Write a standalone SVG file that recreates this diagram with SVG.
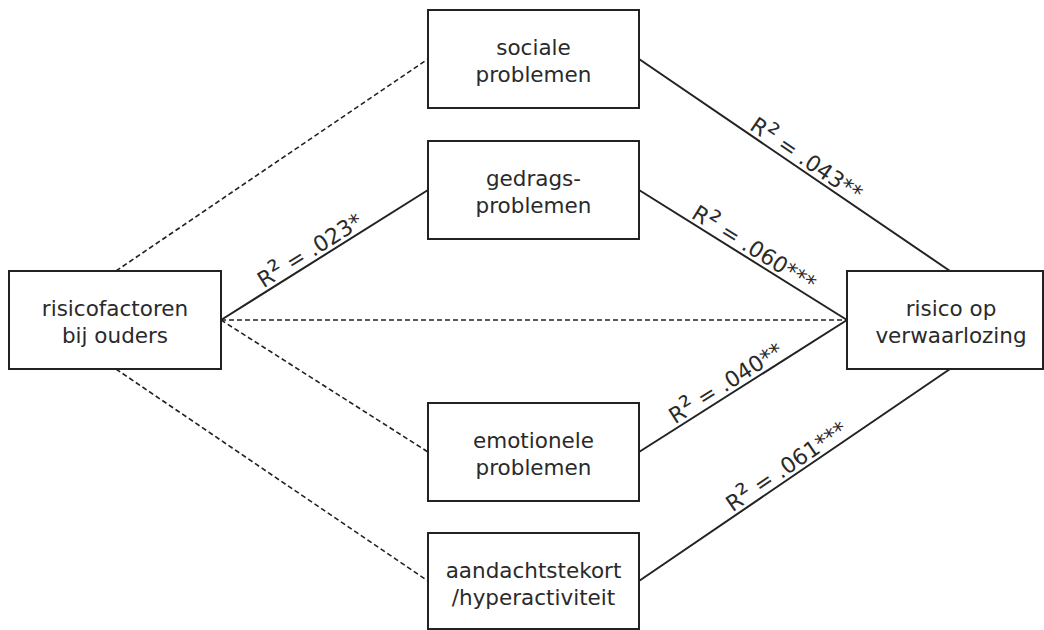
<svg xmlns="http://www.w3.org/2000/svg" width="1044" height="630" viewBox="0 0 1044 630">
<style>
.box{fill:#fff;stroke:#222;stroke-width:2}
.t{font-family:"DejaVu Sans",Verdana,sans-serif;font-size:21.5px;fill:#2a2a2a;text-anchor:middle}
.lab{font-family:"DejaVu Sans",Verdana,sans-serif;font-size:22px;fill:#2a2a2a;text-anchor:middle}
.sup{font-size:28px}
.solid{stroke:#222;stroke-width:2;fill:none}
.dash{stroke:#222;stroke-width:1.6;fill:none;stroke-dasharray:5 3}
</style>
<rect width="1044" height="630" fill="#fff"/>
<g id="connectors">
<line class="dash" x1="116" y1="271" x2="428" y2="59"/>
<line class="solid" x1="639" y1="59" x2="950" y2="271"/>
<line class="solid" x1="221" y1="320" x2="428" y2="190"/>
<line class="solid" x1="639" y1="190" x2="847" y2="320"/>
<line class="dash" x1="221" y1="320" x2="847" y2="320"/>
<line class="dash" x1="221" y1="320" x2="428" y2="452"/>
<line class="solid" x1="639" y1="452" x2="847" y2="320"/>
<line class="dash" x1="116" y1="369" x2="428" y2="581"/>
<line class="solid" x1="639" y1="581" x2="950" y2="369"/>
<g transform="translate(316,260.3) rotate(-32.1)"><text class="lab" x="0" y="-4">R<tspan class="sup">²</tspan> = .023*</text></g>
<g transform="translate(800,168.7) rotate(34.3)"><text class="lab" x="0" y="-4">R<tspan class="sup">²</tspan> = .043**</text></g>
<g transform="translate(748,258.1) rotate(32)"><text class="lab" x="0" y="-4">R<tspan class="sup">²</tspan> = .060***</text></g>
<g transform="translate(732,393) rotate(-32.4)"><text class="lab" x="0" y="-4">R<tspan class="sup">²</tspan> = .040**</text></g>
<g transform="translate(793,476) rotate(-34.3)"><text class="lab" x="0" y="-4">R<tspan class="sup">²</tspan> = .061***</text></g>
</g>
<g id="n-risicofactoren">
<rect class="box" x="9" y="271" width="212" height="98"/>
<text class="t" x="115" y="316">risicofactoren</text>
<text class="t" x="115" y="343">bij ouders</text>
</g>
<g id="n-sociale">
<rect class="box" x="428" y="10" width="211" height="98"/>
<text class="t" x="533.5" y="55">sociale</text>
<text class="t" x="533.5" y="82">problemen</text>
</g>
<g id="n-gedrags">
<rect class="box" x="428" y="141" width="211" height="98"/>
<text class="t" x="533.5" y="186">gedrags-</text>
<text class="t" x="533.5" y="213">problemen</text>
</g>
<g id="n-emotionele">
<rect class="box" x="428" y="403" width="211" height="98"/>
<text class="t" x="533.5" y="448">emotionele</text>
<text class="t" x="533.5" y="475">problemen</text>
</g>
<g id="n-aandacht">
<rect class="box" x="428" y="533" width="211" height="96"/>
<text class="t" x="533.5" y="578">aandachtstekort</text>
<text class="t" x="533.5" y="605">/hyperactiviteit</text>
</g>
<g id="n-risico">
<rect class="box" x="847" y="271" width="196" height="98"/>
<text class="t" x="951" y="316">risico op</text>
<text class="t" x="951" y="343">verwaarlozing</text>
</g>
</svg>
